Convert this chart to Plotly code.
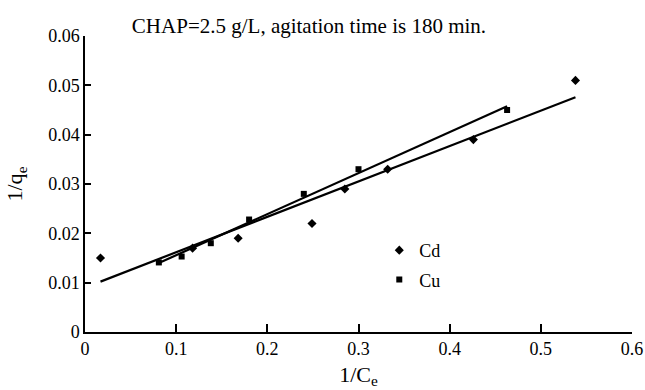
import numpy as np
import plotly.graph_objects as go

# Data
cd_x = [0.017, 0.118, 0.168, 0.249, 0.285, 0.332, 0.426, 0.538]
cd_y = [0.015, 0.017, 0.019, 0.022, 0.029, 0.033, 0.039, 0.051]
cu_x = [0.081, 0.106, 0.138, 0.180, 0.240, 0.300, 0.463]
cu_y = [0.0141, 0.0153, 0.018, 0.0228, 0.028, 0.033, 0.045]

x_ticks = [0, 0.1, 0.2, 0.3, 0.4, 0.5, 0.6]
y_ticks = [0, 0.01, 0.02, 0.03, 0.04, 0.05, 0.06]

FONT = "Liberation Serif, Times New Roman, serif"


def fit_line(xs, ys):
    k, b = np.polyfit(xs, ys, 1)
    lx = [min(xs), max(xs)]
    return lx, [k * v + b for v in lx]


fig = go.Figure()

cd_lx, cd_ly = fit_line(cd_x, cd_y)
cu_lx, cu_ly = fit_line(cu_x, cu_y)

fig.add_trace(go.Scatter(x=cd_lx, y=cd_ly, mode="lines", showlegend=False,
                         line=dict(color="black", width=2.2)))
fig.add_trace(go.Scatter(x=cu_lx, y=cu_ly, mode="lines", showlegend=False,
                         line=dict(color="black", width=2.2)))
fig.add_trace(go.Scatter(x=cd_x, y=cd_y, mode="markers", name="Cd", legendgroup="a",
                         marker=dict(symbol="diamond", size=7, color="black")))
fig.add_trace(go.Scatter(x=cu_x, y=cu_y, mode="markers", name="Cu", legendgroup="b",
                         marker=dict(symbol="square", size=6, color="black")))

fig.update_layout(
    width=645, height=390,
    margin=dict(l=85, r=13, t=36, b=58),
    paper_bgcolor="white", plot_bgcolor="white",
    font=dict(family=FONT, size=18, color="black"),
    title=dict(text="CHAP=2.5 g/L, agitation time is 180 min.",
               xref="container", yref="container",
               x=309 / 645, y=1 - 26 / 390, xanchor="center", yanchor="middle",
               font=dict(family=FONT, size=21, color="black")),
    legend=dict(x=0.538, y=0.338, xanchor="left", yanchor="top",
                bgcolor="rgba(0,0,0,0)", tracegroupgap=3,
                font=dict(family=FONT, size=18), itemwidth=30),
    xaxis=dict(range=[0, 0.6], tickvals=x_ticks, ticktext=[f"{v:g}" for v in x_ticks],
               showgrid=False, zeroline=False, showline=True, linecolor="black",
               linewidth=1.5, ticks="inside", ticklen=8, tickwidth=1.5,
               tickcolor="black", automargin=False,
               title=dict(text="1/C<sub>e</sub>", standoff=8)),
    yaxis=dict(range=[0, 0.06], tickvals=y_ticks, ticktext=[f"{v:g}" for v in y_ticks],
               showgrid=False, zeroline=False, showline=True, linecolor="black",
               linewidth=1.5, ticks="inside", ticklen=6, tickwidth=1.5,
               tickcolor="black", automargin=False,
               title=dict(text="1/q<sub>e</sub>", standoff=19)),
)

fig.write_html("out.html", config={"displayModeBar": False},
               post_script="document.body.style.margin='0';document.body.style.overflow='hidden';")
